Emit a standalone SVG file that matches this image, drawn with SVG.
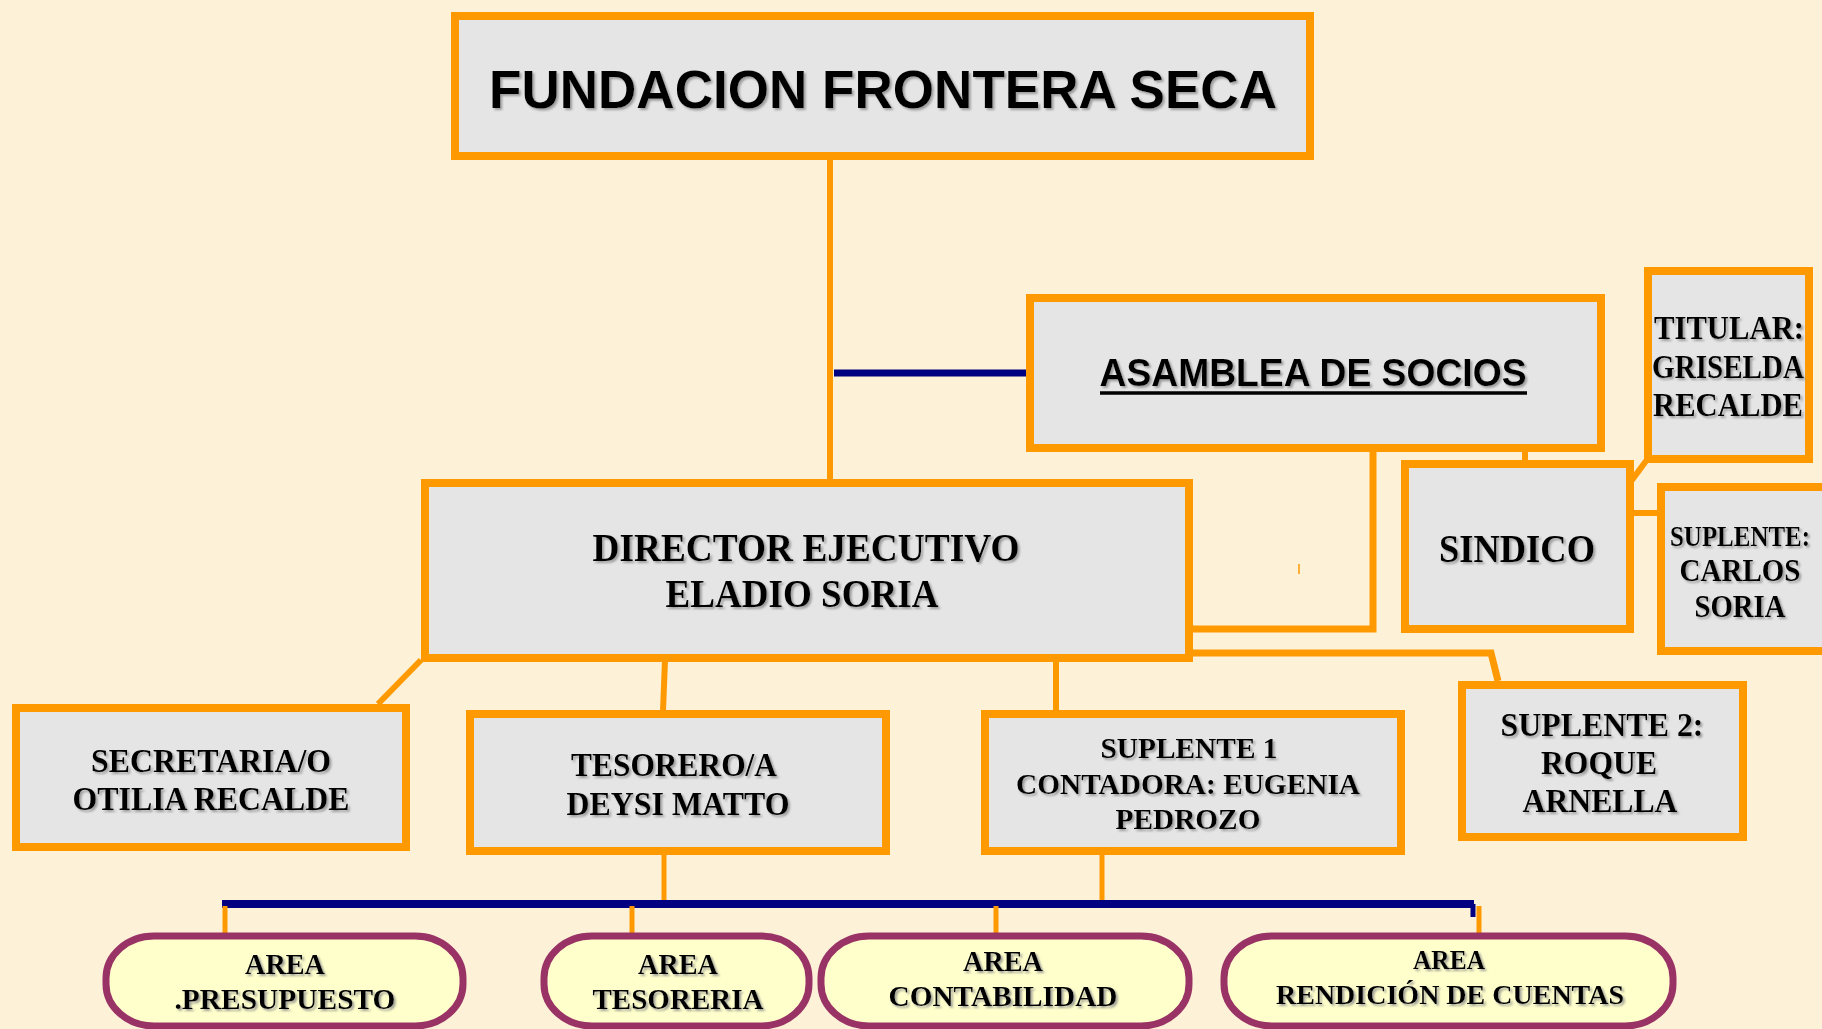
<svg xmlns="http://www.w3.org/2000/svg" width="1822" height="1029" viewBox="0 0 1822 1029">
<defs>
<filter id="sh" x="-5%" y="-20%" width="110%" height="140%">
<feDropShadow dx="2" dy="2" stdDeviation="1" flood-color="#8a8a8a" flood-opacity="0.8"/>
</filter>
</defs>
<style>
.box{fill:#e5e5e5;stroke:#ff9900;stroke-width:8}
.area{fill:#ffffcc;stroke:#993366;stroke-width:7}
.oc{fill:none;stroke:#ff9900;stroke-width:6}
.oc2{fill:none;stroke:#ff9900;stroke-width:5}
.nv{fill:none;stroke:#000080;stroke-width:8}
.t{font-family:"Liberation Serif","Times New Roman",serif;font-weight:bold;fill:#000;text-anchor:middle}
.a{font-family:"Liberation Sans",Arial,sans-serif;font-weight:bold;fill:#000;text-anchor:middle}
text{filter:url(#sh)}
</style>
<rect width="1822" height="1029" fill="#fdf1d7"/>

<g id="connectors">
<line class="oc" x1="830" y1="160" x2="830" y2="494"/>
<line class="nv" x1="834" y1="373" x2="1028" y2="373" style="stroke-width:7"/>
<path class="oc" d="M1373 452 V629 H1193" style="stroke-width:7"/>
<path class="oc" d="M1193 653 H1491 L1498 681" style="stroke-width:7"/>
<line class="oc" x1="1525" y1="434" x2="1525" y2="462"/>
<line class="oc" x1="1632" y1="480" x2="1646" y2="461"/>
<line class="oc" x1="1632" y1="513" x2="1660" y2="513"/>
<line class="oc" x1="421" y1="660" x2="378" y2="704"/>
<line class="oc" x1="665" y1="660" x2="663" y2="711"/>
<line class="oc" x1="1056" y1="660" x2="1056" y2="711"/>
<line class="oc2" x1="664" y1="855" x2="664" y2="902"/>
<line class="oc2" x1="1102" y1="855" x2="1102" y2="902"/>
<path class="nv" d="M222 904 H1474"/>
<line class="nv" x1="1473" y1="904" x2="1473" y2="917" style="stroke-width:5"/>
<line class="oc2" x1="225" y1="906" x2="225" y2="934"/>
<line class="oc2" x1="632" y1="906" x2="632" y2="934"/>
<line class="oc2" x1="996" y1="906" x2="996" y2="934"/>
<line class="oc2" x1="1479" y1="906" x2="1479" y2="934"/>
<line x1="1299" y1="564" x2="1299" y2="574" stroke="#ff9900" stroke-width="1.5"/>
</g>

<g id="fundacion">
<rect class="box" x="455" y="16" width="855" height="140"/>
<text class="a" x="883" y="108" font-size="54" textLength="788" lengthAdjust="spacingAndGlyphs">FUNDACION FRONTERA SECA</text>
</g>

<g id="asamblea">
<rect class="box" x="1030" y="298" width="571" height="150"/>
<text class="a" x="1313" y="386" font-size="38" textLength="427" lengthAdjust="spacingAndGlyphs">ASAMBLEA DE SOCIOS</text>
<line x1="1100" y1="393" x2="1527" y2="393" stroke="#000" stroke-width="3.5"/>
</g>

<g id="director">
<rect class="box" x="425" y="483" width="764" height="175"/>
<text class="t" x="806" y="561" font-size="40" textLength="427" lengthAdjust="spacingAndGlyphs">DIRECTOR EJECUTIVO</text>
<text class="t" x="802" y="607" font-size="40" textLength="273" lengthAdjust="spacingAndGlyphs">ELADIO SORIA</text>
</g>

<g id="sindico">
<rect class="box" x="1405" y="464" width="225" height="165"/>
<text class="t" x="1517" y="562" font-size="40" textLength="156" lengthAdjust="spacingAndGlyphs">SINDICO</text>
</g>

<g id="titular">
<rect class="box" x="1648" y="271" width="161" height="188"/>
<text class="t" x="1729" y="339" font-size="33" textLength="150" lengthAdjust="spacingAndGlyphs">TITULAR:</text>
<text class="t" x="1728" y="378" font-size="33" textLength="152" lengthAdjust="spacingAndGlyphs">GRISELDA</text>
<text class="t" x="1728" y="416" font-size="33" textLength="150" lengthAdjust="spacingAndGlyphs">RECALDE</text>
</g>

<g id="suplente">
<rect class="box" x="1661" y="487" width="175" height="164"/>
<text class="t" x="1740" y="546" font-size="30" textLength="140" lengthAdjust="spacingAndGlyphs">SUPLENTE:</text>
<text class="t" x="1740" y="581" font-size="31" textLength="121" lengthAdjust="spacingAndGlyphs">CARLOS</text>
<text class="t" x="1740" y="617" font-size="31" textLength="91" lengthAdjust="spacingAndGlyphs">SORIA</text>
</g>

<g id="secretaria">
<rect class="box" x="16" y="708" width="390" height="139"/>
<text class="t" x="211" y="772" font-size="33" textLength="240" lengthAdjust="spacingAndGlyphs">SECRETARIA/O</text>
<text class="t" x="211" y="810" font-size="33" textLength="277" lengthAdjust="spacingAndGlyphs">OTILIA RECALDE</text>
</g>

<g id="tesorero">
<rect class="box" x="470" y="714" width="416" height="137"/>
<text class="t" x="674" y="776" font-size="33" textLength="206" lengthAdjust="spacingAndGlyphs">TESORERO/A</text>
<text class="t" x="678" y="815" font-size="33" textLength="223" lengthAdjust="spacingAndGlyphs">DEYSI MATTO</text>
</g>

<g id="suplente1">
<rect class="box" x="985" y="714" width="416" height="137"/>
<text class="t" x="1189" y="758" font-size="30" textLength="177" lengthAdjust="spacingAndGlyphs">SUPLENTE 1</text>
<text class="t" x="1188" y="794" font-size="30" textLength="344" lengthAdjust="spacingAndGlyphs">CONTADORA: EUGENIA</text>
<text class="t" x="1188" y="829" font-size="30" textLength="145" lengthAdjust="spacingAndGlyphs">PEDROZO</text>
</g>

<g id="suplente2">
<rect class="box" x="1462" y="685" width="281" height="152"/>
<text class="t" x="1602" y="736" font-size="33" textLength="203" lengthAdjust="spacingAndGlyphs">SUPLENTE 2:</text>
<text class="t" x="1599" y="774" font-size="33" textLength="116" lengthAdjust="spacingAndGlyphs">ROQUE</text>
<text class="t" x="1600" y="812" font-size="33" textLength="155" lengthAdjust="spacingAndGlyphs">ARNELLA</text>
</g>

<g id="area-presupuesto">
<rect class="area" x="106" y="936" width="357" height="90" rx="48" ry="42"/>
<text class="t" x="285" y="974" font-size="30" textLength="80" lengthAdjust="spacingAndGlyphs">AREA</text>
<text class="t" x="285" y="1009" font-size="30" textLength="221" lengthAdjust="spacingAndGlyphs">.PRESUPUESTO</text>
</g>

<g id="area-tesoreria">
<rect class="area" x="544" y="936" width="265" height="90" rx="48" ry="42"/>
<text class="t" x="678" y="974" font-size="30" textLength="80" lengthAdjust="spacingAndGlyphs">AREA</text>
<text class="t" x="678" y="1009" font-size="30" textLength="171" lengthAdjust="spacingAndGlyphs">TESORERIA</text>
</g>

<g id="area-contabilidad">
<rect class="area" x="821" y="936" width="368" height="90" rx="48" ry="42"/>
<text class="t" x="1003" y="971" font-size="30" textLength="80" lengthAdjust="spacingAndGlyphs">AREA</text>
<text class="t" x="1003" y="1006" font-size="30" textLength="229" lengthAdjust="spacingAndGlyphs">CONTABILIDAD</text>
</g>

<g id="area-rendicion">
<rect class="area" x="1224" y="936" width="449" height="90" rx="48" ry="42"/>
<text class="t" x="1449" y="969" font-size="28" textLength="72" lengthAdjust="spacingAndGlyphs">AREA</text>
<text class="t" x="1450" y="1004" font-size="28" textLength="348" lengthAdjust="spacingAndGlyphs">RENDICIÓN DE CUENTAS</text>
</g>
</svg>
